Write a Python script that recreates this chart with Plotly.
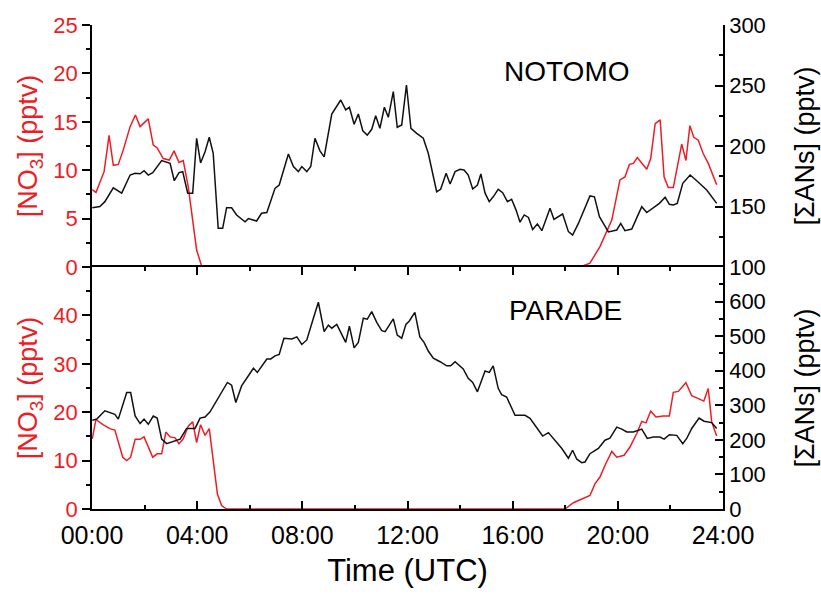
import plotly.graph_objects as go
from plotly.subplots import make_subplots

# ---------------- data (hours UTC) ----------------
# NOTOMO  [NO3] (pptv)
not_no3_t = [0.01, 0.15, 0.46, 0.65, 0.81, 1.0, 1.19, 1.45, 1.65, 1.83, 2.14, 2.33, 2.48, 2.71, 2.94,
             3.12, 3.31, 3.47, 3.66, 3.85, 3.98, 4.17, 4.5, 4.75, None, 5.35, 5.55, None, 5.95, 6.15, None,
             18.56, 18.94, 19.32, 19.77, 20.08, 20.27, 20.44, 20.59, 20.74, 21.1, 21.25, 21.42, 21.61,
             21.76, 21.92, 22.11, 22.43, 22.59, 22.74, 22.89, 23.06, 23.25, 23.44, 23.76]
not_no3_v = [8.0, 7.7, 9.85, 13.6, 10.5, 10.6, 12.1, 14.5, 15.7, 14.5, 15.3, 12.6, 12.3, 11.2, 11.05,
             12.0, 10.8, 11.0, 8.3, 4.5, 1.75, 0.1, 0.0, 0.0, None, 0.0, 0.0, None, 0.0, 0.0, None,
             0.0, 0.4, 2.1, 4.85, 9.0, 9.3, 10.6, 10.7, 11.3, 10.1, 11.2, 14.8, 15.2,
             9.3, 8.2, 8.2, 12.7, 11.0, 14.6, 13.4, 13.1, 11.7, 10.7, 8.5]

# NOTOMO  [ΣANs] (pptv)
not_ans_t = [0.01, 0.3, 0.49, 0.81, 1.13, 1.45, 1.64, 1.83, 1.98, 2.14, 2.31, 2.65, 2.97, 3.13, 3.31,
             3.45, 3.64, 3.83, 3.98, 4.13, 4.3, 4.46, 4.61, 4.8, 4.97, 5.12, 5.31, 5.5, 5.82, 5.95,
             6.26, 6.45, 6.65, 6.96, 7.12, 7.47, 7.66, 7.85, 7.98, 8.17, 8.32, 8.48, 8.67, 8.83,
             9.12, 9.46, 9.65, 9.79, 9.97, 10.13, 10.3, 10.47, 10.64, 10.79, 10.95, 11.12, 11.27,
             11.46, 11.61, 11.78, 11.96, 12.13, 12.35, 12.6, 12.79, 13.11, 13.26, 13.47, 13.62,
             13.81, 14.0, 14.15, 14.31, 14.48, 14.66, 14.79, 14.95, 15.11, 15.26, 15.45, 15.62,
             15.8, 15.96, 16.13, 16.28, 16.44, 16.6, 16.76, 16.94, 17.11, 17.26, 17.42, 17.57,
             17.74, 17.9, 18.12, 18.28, 18.5, 18.75, 18.94, 19.11, 19.3, 19.45, 19.64, 19.96,
             20.11, 20.27, 20.53, 20.74, 20.91, 21.1, 21.35, 21.58, 21.8, 21.96, 22.11, 22.26,
             22.47, 22.75, 23.0, 23.38, 23.76]
not_ans_v = [149, 150, 154, 165.5, 161, 176, 177.4, 177, 179.6, 176, 178, 188, 185.7, 171.3, 178,
             178.8, 161, 161, 206.4, 186, 195.3, 207.2, 194, 132, 132, 149, 149, 143, 137.4, 140,
             138, 144.4, 145, 165, 167.8, 193.4, 183, 178.8, 183, 178.8, 183, 206.4, 196, 191,
             226.4, 238, 229.8, 232, 218, 226.4, 212.6, 209, 213.8, 225, 214.6, 232, 223.7,
             244.9, 215.5, 217.4, 250.4, 214.6, 210.5, 206.4, 194, 162.2, 164.2, 177.4, 168.6,
             178.8, 180.7, 180.2, 176, 164.5, 167.8, 176.9, 161, 154, 158, 164.2, 161.4,
             154, 156, 147, 137, 143, 141, 131, 135.5, 130, 138.8, 148.5, 139.4,
             141.6, 143.8, 129.2, 126.4, 136, 148.5, 158.7, 158, 141.6, 136, 129, 130.6,
             136, 130, 131.4, 141.6, 149.8, 145, 149, 152.6, 157.6, 151.8, 151.2, 152.6,
             169.2, 176, 171.3, 163.6, 152.6]

# PARADE  [NO3] (pptv)
par_no3_t = [0.01, 0.15, 0.43, 0.68, 0.87, 1.17, 1.32, 1.47, 1.64, 1.83, 1.98, 2.31, 2.48, 2.65, 2.81,
             2.97, 3.16, 3.31, 3.47, 3.66, 3.83, 3.98, 4.13, 4.3, 4.46, 4.61, 4.77, 4.93, 5.12,
             8.0, 12.0, 16.0, 17.99, 18.31, 18.63, 18.94, 19.13, 19.32, 19.51, 19.77, 19.96,
             20.24, 20.46, 20.72, 20.91, 21.07, 21.25, 21.45, 21.73, 21.96, 22.11, 22.3, 22.59,
             22.81, 23.02, 23.27, 23.44, 23.57, 23.76]
par_no3_v = [14.5, 18.5, 17.4, 16.6, 16.3, 10.7, 10.0, 10.7, 14.4, 14.4, 14.9, 10.7, 11.4, 11.4, 15.9,
             14.9, 14.7, 13.5, 14.5, 17.1, 18.0, 13.7, 17.4, 15.2, 16.6, 9.7, 3.1, 0.7, 0.0,
             0.0, 0.0, 0.0, 0.0, 1.3, 2.1, 2.8, 5.2, 6.6, 9.0, 11.9, 10.7,
             11.1, 12.8, 15.6, 18.1, 17.8, 20.2, 19.0, 19.2, 19.2, 24.1, 24.3, 26.1,
             23.4, 22.9, 22.3, 24.9, 18.0, 15.1]

# PARADE  [ΣANs] (pptv)
par_ans_t = [0.01, 0.18, 0.49, 0.75, 0.87, 1.0, 1.32, 1.47, 1.64, 1.83, 1.98, 2.14, 2.33, 2.48, 2.65,
             2.84, 3.1, 3.35, 3.6, 3.92, 4.11, 4.3, 4.49, 4.87, 5.15, 5.31, 5.47, 5.69, 5.88, 6.14,
             6.29, 6.65, 6.8, 6.96, 7.12, 7.3, 7.6, 7.79, 7.98, 8.17, 8.42, 8.61, 8.83, 8.99, 9.12,
             9.31, 9.65, 9.79, 9.97, 10.13, 10.32, 10.47, 10.64, 10.83, 11.02, 11.15, 11.46, 11.61,
             11.78, 11.94, 12.07, 12.28, 12.47, 12.63, 12.79, 12.98, 13.24, 13.49, 13.64, 13.81,
             14.12, 14.31, 14.48, 14.66, 14.95, 15.11, 15.26, 15.45, 15.58, 15.77, 16.09, 16.47,
             16.66, 16.92, 17.14, 17.36, 17.68, 17.87, 18.12, 18.28, 18.44, 18.63, 18.75, 18.94,
             19.26, 19.51, 19.7, 19.96, 20.15, 20.34, 20.59, 20.91, 21.12, 21.35, 21.6, 21.76,
             21.96, 22.24, 22.47, 22.62, 22.81, 23.09, 23.28, 23.57, 23.76]
par_ans_v = [257, 260, 284, 276, 274, 260, 337, 337, 269, 247, 260, 245, 269, 263, 202,
             189, 196, 202, 233, 233, 263, 266, 281, 329, 366, 358, 308, 356, 376, 407,
             395, 434, 434, 443, 447, 494, 492, 498, 476, 489, 552, 598, 513, 532, 523,
             534, 482, 529, 466, 482, 552, 549, 571, 540, 516, 513, 550, 503,
             494, 534, 544, 569, 498, 482, 457, 436, 426, 414, 414, 426,
             405, 378, 366, 339, 399, 395, 414, 349, 331, 324, 271, 271,
             262, 234, 211, 221, 192, 175, 147, 170, 144, 134, 136, 160,
             175, 199, 205, 237, 231, 223, 223, 231, 204, 208, 208, 202,
             215, 213, 189, 204, 233, 263, 254, 250, 233]

x_tickvals = [0, 4, 8, 12, 16, 20, 24]
x_ticktext = ["00:00", "04:00", "08:00", "12:00", "16:00", "20:00", "24:00"]
top_left_ticks = [0, 5, 10, 15, 20, 25]
top_right_ticks = [100, 150, 200, 250, 300]
bot_left_ticks = [0, 10, 20, 30, 40]
bot_right_ticks = [0, 100, 200, 300, 400, 500, 600]
panel_labels = ["NOTOMO", "PARADE"]

# ---------------- figure ----------------
RED = "#ee1c24"
BLACK = "#111111"
FONT = "Liberation Sans, Arial, sans-serif"

fig = make_subplots(rows=2, cols=1, shared_xaxes=True, vertical_spacing=0,
                    specs=[[{"secondary_y": True}], [{"secondary_y": True}]])

fig.add_trace(go.Scatter(x=not_no3_t, y=not_no3_v, mode="lines", line=dict(color=RED, width=1.5),
                         connectgaps=False, showlegend=False), row=1, col=1, secondary_y=False)
fig.add_trace(go.Scatter(x=not_ans_t, y=not_ans_v, mode="lines", line=dict(color=BLACK, width=1.5),
                         showlegend=False), row=1, col=1, secondary_y=True)
fig.add_trace(go.Scatter(x=par_no3_t, y=par_no3_v, mode="lines", line=dict(color=RED, width=1.5),
                         showlegend=False), row=2, col=1, secondary_y=False)
fig.add_trace(go.Scatter(x=par_ans_t, y=par_ans_v, mode="lines", line=dict(color=BLACK, width=1.5),
                         showlegend=False), row=2, col=1, secondary_y=True)

tickfont_y = dict(family=FONT, size=22)
title_font = dict(family=FONT, size=27)

common_y = dict(showgrid=False, zeroline=False, showline=True, linecolor="black", linewidth=1.5,
                ticklen=8, tickwidth=1.5, tickcolor="black", automargin=False)

# top panel
fig.update_yaxes(row=1, col=1, secondary_y=False, range=[0, 25], tickvals=top_left_ticks,
                 ticks="outside", tickfont=dict(tickfont_y, color=RED),
                 minor=dict(dtick=2.5, tick0=0, ticks="outside", ticklen=4, tickcolor="black", tickwidth=1.5),
                 title=dict(text="[NO<sub>3</sub>] (pptv)", font=dict(title_font, color=RED), standoff=8),
                 **common_y)
fig.update_yaxes(row=1, col=1, secondary_y=True, range=[100, 300], tickvals=top_right_ticks,
                 ticks="inside", tickfont=dict(tickfont_y, color="black"),
                 minor=dict(dtick=25, tick0=0, ticks="inside", ticklen=4, tickcolor="black", tickwidth=1.5),
                 title=dict(text="[ΣANs] (pptv)", font=dict(title_font, color="black"), standoff=30),
                 **common_y)
# bottom panel
fig.update_yaxes(row=2, col=1, secondary_y=False, range=[0, 50], tickvals=bot_left_ticks,
                 ticks="outside", tickfont=dict(tickfont_y, color=RED),
                 minor=dict(dtick=5, tick0=0, ticks="outside", ticklen=4, tickcolor="black", tickwidth=1.5),
                 title=dict(text="[NO<sub>3</sub>] (pptv)", font=dict(title_font, color=RED), standoff=8),
                 **common_y)
fig.update_yaxes(row=2, col=1, secondary_y=True, range=[0, 700], tickvals=bot_right_ticks,
                 ticks="inside", tickfont=dict(tickfont_y, color="black"),
                 minor=dict(dtick=50, tick0=0, ticks="inside", ticklen=4, tickcolor="black", tickwidth=1.5),
                 title=dict(text="[ΣANs] (pptv)", font=dict(title_font, color="black"), standoff=30),
                 **common_y)

# x axes
fig.update_xaxes(row=1, col=1, domain=[0, 1], range=[0, 24], showgrid=False, zeroline=False, showline=False,
                 ticks="", showticklabels=False, automargin=False)
fig.update_xaxes(row=2, col=1, domain=[0, 1], range=[0, 24], showgrid=False, zeroline=False, showline=True,
                 linecolor="black", linewidth=1.5, mirror="ticks", ticks="inside", ticklen=8,
                 tickwidth=1.5, tickcolor="black", tickvals=x_tickvals, ticktext=x_ticktext,
                 tickfont=dict(family=FONT, size=25, color="black"), automargin=False,
                 ticklabelstandoff=3,
                 minor=dict(dtick=2, tick0=0, ticks="inside", ticklen=4, tickcolor="black", tickwidth=1.5),
                 title=dict(text="Time (UTC)", font=dict(family=FONT, size=31, color="black"), standoff=12))

fig.add_annotation(text=panel_labels[0], xref="x", yref="paper", x=18.05, y=0.94, showarrow=False,
                   font=dict(family=FONT, size=28, color="black"))
fig.add_annotation(text=panel_labels[1], xref="x", yref="paper", x=18.0, y=0.41, showarrow=False,
                   font=dict(family=FONT, size=28, color="black"))

fig.update_layout(width=821, height=597, margin=dict(l=92, r=98, t=25, b=88),
                  paper_bgcolor="white", plot_bgcolor="white", showlegend=False)

fig.write_html("out.html")
